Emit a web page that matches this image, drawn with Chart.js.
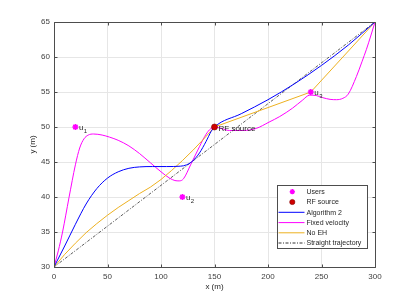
<!DOCTYPE html>
<html><head><meta charset="utf-8">
<script src="https://cdn.jsdelivr.net/npm/chart.js@4/dist/chart.umd.min.js"></script>
<style>html,body{margin:0;padding:0;background:#fff}canvas{display:block}</style>
</head><body>
<canvas id="c" width="415" height="300"></canvas>
<script>
// ---- data ----
const userX = [20, 120, 240];
const userY = [50, 40, 55];
const userSub = ['1', '2', '3'];
const rfX = [150];
const rfY = [50];

const algX = [0, 10, 20, 30, 40, 50, 60, 70, 80, 92, 105, 118, 124, 130, 136, 142, 147, 150, 175, 200, 225, 250, 275, 300];
const algY = [30, 33.0, 36.1, 39.0, 41.2, 42.7, 43.6, 44.1, 44.3, 44.35, 44.35, 44.4, 44.6, 45.2, 46.3, 47.9, 49.4, 50, 51.9, 53.9, 56.2, 58.8, 61.7, 65];

const fixX = [0, 4, 8, 14, 20, 24, 28, 32, 37, 45, 52, 60, 70, 80, 90, 100, 108, 113, 117, 121, 128, 134.4, 140.7, 145.3, 150, 155, 164, 177, 189, 201, 211, 223, 232, 239, 245, 251, 258, 264, 270, 275, 282.6, 288, 292, 296, 300];
const fixY = [30, 32.3, 35.0, 39.9, 44.6, 47.0, 48.3, 48.85, 49.0, 48.85, 48.55, 48.1, 47.3, 46.2, 44.9, 43.6, 42.7, 42.35, 42.3, 42.6, 44.7, 46.7, 48.6, 49.6, 50, 49.85, 49.5, 49.5, 49.8, 50.7, 51.5, 52.7, 53.8, 54.55, 54.5, 54.2, 53.95, 53.9, 54.1, 54.7, 57.2, 59.4, 61.1, 63.0, 65];

const noehX = [0, 10, 20, 30, 40, 50, 60, 70, 80, 90, 100, 110, 120, 130, 140, 150, 240, 300];
const noehY = [30, 31.8, 33.4, 34.9, 36.2, 37.4, 38.5, 39.5, 40.5, 41.4, 42.5, 43.8, 45.2, 46.7, 48.3, 50, 55, 65];

const straightX = [0, 300];
const straightY = [30, 65];

const xTicks = [0, 50, 100, 150, 200, 250, 300];
const yTicks = [30, 35, 40, 45, 50, 55, 60, 65];
const legendLabels = ['Users', 'RF source', 'Algorithm 2', 'Fixed velocity', 'No EH', 'Straight trajectory'];

const pts = (xs, ys) => xs.map((x, i) => ({x: x, y: ys[i]}));

const C_USER = '#ff00ff', C_RF = '#d00000', C_ALG = '#0000ff', C_FIX = '#ff00ff', C_NOEH = '#edb120', C_STR = '#333333';
const FONT = 'Liberation Sans, Arial, sans-serif';

const decor = {
  id: 'decor',
  afterDatasetsDraw(chart) {
    const {ctx, chartArea: a, scales: {x, y}} = chart;
    ctx.save();
    ctx.strokeStyle = '#4d4d4d';
    ctx.lineWidth = 1;
    ctx.beginPath();
    const L = Math.round(a.left) + 0.5, R = Math.round(a.right) + 0.5, T = Math.round(a.top) + 0.5, B = Math.round(a.bottom) + 0.5;
    ctx.rect(L, T, R - L, B - T);
    xTicks.forEach(v => {
      const px = Math.round(x.getPixelForValue(v)) + 0.5;
      ctx.moveTo(px, B); ctx.lineTo(px, B - 3);
      ctx.moveTo(px, T); ctx.lineTo(px, T + 3);
    });
    yTicks.forEach(v => {
      const py = Math.round(y.getPixelForValue(v)) + 0.5;
      ctx.moveTo(L, py); ctx.lineTo(L + 3, py);
      ctx.moveTo(R, py); ctx.lineTo(R - 3, py);
    });
    ctx.stroke();
    ctx.restore();
  },
  afterDraw(chart) {
    const {ctx, chartArea: a, scales: {x, y}} = chart;
    ctx.save();
    ctx.fillStyle = '#262626';
    ctx.textBaseline = 'alphabetic';
    ctx.textAlign = 'left';
    userX.forEach((ux, i) => {
      const px = x.getPixelForValue(ux) + 3.5, py = y.getPixelForValue(userY[i]);
      ctx.font = '8px ' + FONT;
      ctx.fillText('u', px, py + 2.5);
      const w = ctx.measureText('u').width;
      ctx.font = '6px ' + FONT;
      ctx.fillText(userSub[i], px + w + 0.5, py + 6);
    });
    ctx.font = '8px ' + FONT;
    ctx.fillText('RF source', x.getPixelForValue(rfX[0]) + 4, y.getPixelForValue(rfY[0]) + 4);

    ctx.font = '8px ' + FONT;
    ctx.textAlign = 'center';
    ctx.textBaseline = 'middle';
    ctx.fillText('x (m)', (a.left + a.right) / 2, 287);
    ctx.save();
    ctx.translate(33, (a.top + a.bottom) / 2);
    ctx.rotate(-Math.PI / 2);
    ctx.fillText('y (m)', 0, 0);
    ctx.restore();

    const bx = 277.5, by = 185.5, bw = 90, bh = 63;
    ctx.fillStyle = '#ffffff';
    ctx.fillRect(bx, by, bw, bh);
    ctx.strokeStyle = '#4d4d4d';
    ctx.lineWidth = 1;
    ctx.strokeRect(bx, by, bw, bh);
    const rowY = [191.7, 202, 212.3, 222.6, 232.8, 243];
    const lx0 = 278.5, lx1 = 304.5, mx = 292.3, tx = 306.5;
    ctx.font = '7px ' + FONT;
    ctx.textAlign = 'left';
    ctx.textBaseline = 'middle';
    legendLabels.forEach((lab, i) => {
      const ry = rowY[i];
      if (i === 0) {
        drawStar(ctx, mx, ry, 2.6, C_USER);
      } else if (i === 1) {
        ctx.beginPath(); ctx.arc(mx, ry, 2.6, 0, Math.PI * 2);
        ctx.fillStyle = C_RF; ctx.fill(); ctx.strokeStyle = '#800000'; ctx.lineWidth = 0.6; ctx.stroke();
      } else {
        const col = [null, null, C_ALG, C_FIX, C_NOEH, C_STR][i];
        ctx.beginPath(); ctx.strokeStyle = col; ctx.lineWidth = 1;
        ctx.setLineDash(i === 5 ? [3, 1.5, 1, 1.5] : []);
        ctx.moveTo(lx0, ry); ctx.lineTo(lx1, ry); ctx.stroke();
        ctx.setLineDash([]);
      }
      ctx.fillStyle = '#262626';
      ctx.fillText(lab, tx, ry + 0.5);
    });
    ctx.restore();
  }
};

function drawStar(ctx, cx, cy, r, col) {
  ctx.save();
  ctx.strokeStyle = col; ctx.lineWidth = 1.4;
  ctx.beginPath();
  for (let k = 0; k < 4; k++) {
    const ang = k * Math.PI / 4;
    ctx.moveTo(cx - r * Math.cos(ang), cy - r * Math.sin(ang));
    ctx.lineTo(cx + r * Math.cos(ang), cy + r * Math.sin(ang));
  }
  ctx.stroke();
  ctx.restore();
}

new Chart(document.getElementById('c'), {
  type: 'scatter',
  data: {
    datasets: [
      {label: 'RF source', data: pts(rfX, rfY), pointStyle: 'circle', pointRadius: 3, backgroundColor: C_RF, borderColor: '#800000', borderWidth: 0.6, showLine: false},
      {label: 'Users', data: pts(userX, userY), pointStyle: 'star', pointRadius: 3, borderColor: C_USER, backgroundColor: C_USER, borderWidth: 1.5, showLine: false},
      {label: 'Algorithm 2', data: pts(algX, algY), showLine: true, borderColor: C_ALG, borderWidth: 1, pointRadius: 0, cubicInterpolationMode: 'monotone'},
      {label: 'No EH', data: pts(noehX, noehY), showLine: true, borderColor: C_NOEH, borderWidth: 1, pointRadius: 0, tension: 0},
      {label: 'Fixed velocity', data: pts(fixX, fixY), showLine: true, borderColor: C_FIX, borderWidth: 1, pointRadius: 0, cubicInterpolationMode: 'monotone'},
      {label: 'Straight trajectory', data: pts(straightX, straightY), showLine: true, borderColor: C_STR, borderWidth: 0.8, borderDash: [3, 1.5, 1, 1.5], pointRadius: 0}
    ]
  },
  options: {
    responsive: false,
    animation: false,
    events: [],
    layout: {padding: {top: 22, right: 40, left: 0, bottom: 0}},
    plugins: {legend: {display: false}, tooltip: {enabled: false}},
    scales: {
      x: {
        type: 'linear', min: 0, max: 300,
        afterFit: s => { s.height = 33; },
        afterBuildTicks: s => { s.ticks = xTicks.map(v => ({value: v})); },
        grid: {color: '#e6e6e6', drawTicks: false, lineWidth: 1},
        border: {display: false},
        ticks: {padding: 5, color: '#404040', font: {family: FONT, size: 8}, maxRotation: 0}
      },
      y: {
        type: 'linear', min: 30, max: 65,
        afterFit: s => { s.width = 54; },
        afterBuildTicks: s => { s.ticks = yTicks.map(v => ({value: v})); },
        grid: {color: '#e6e6e6', drawTicks: false, lineWidth: 1},
        border: {display: false},
        ticks: {padding: 4, color: '#404040', font: {family: FONT, size: 8}}
      }
    }
  },
  plugins: [decor]
});
</script>
</body></html>
